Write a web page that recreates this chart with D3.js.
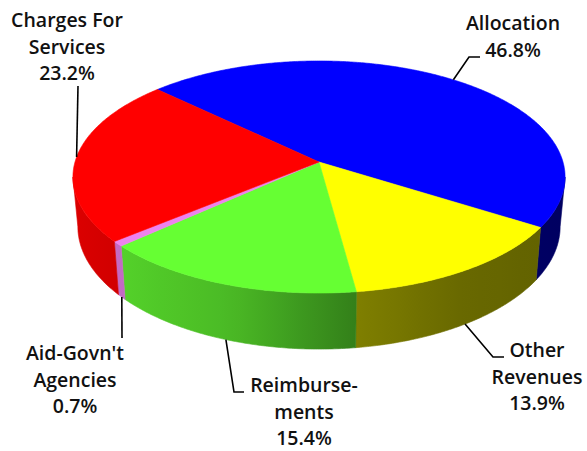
<!DOCTYPE html>
<html>
<head>
<meta charset="utf-8">
<script src="https://cdn.jsdelivr.net/npm/d3@7"></script>
<style>
  html, body { margin: 0; padding: 0; background: #fff; }
  svg { display: block; }
  text { font-family: "Open Sans", "DejaVu Sans", sans-serif; fill: #111; font-weight: 600; }
</style>
</head>
<body>
<svg id="chart" width="587" height="451"></svg>
<script>
// Revenue sources, clockwise from the back-left edge of the pie
const categories = ["Allocation", "Other Revenues", "Reimbursements", "Aid-Govn't Agencies", "Charges For Services"];
const values = [46.8, 13.9, 15.4, 0.7, 23.2];
const nameLines = [["Allocation"], ["Other", "Revenues"], ["Reimburse-", "ments"], ["Aid-Govn't", "Agencies"], ["Charges For", "Services"]];
const topColors = ["#0000ff", "#ffff00", "#66ff33", "#ee82ee", "#ff0000"];

// Disk geometry: a tilted disk seen in perspective
const W = 587, H = 451;
const CX = 319, CY = 162;        // projected centre of the top face
const RX = 244, RY = 114.1;      // horizontal / depth radii
const K = 0.1293;                // perspective strength (front is nearer)
const DEPTH = 48.8;              // thickness of the pie
const BOTTOM_SHRINK = 0.98;      // lower rim sits slightly further away
const START = 223.8 * Math.PI / 180;

function proj(phi, h) {
  const X = Math.cos(phi), Z = Math.sin(phi), w = 1 - K * Z;
  const s = h ? BOTTOM_SHRINK : 1;
  return [CX + RX * X * s / w, CY + (RY * Z + DEPTH * h) / w];
}

// Side lighting: brighter on the left, darker on the right
const shade = d3.scaleLinear()
  .domain([74, 130, 230, 355, 460, 566])
  .range([0.86, 0.81, 0.73, 0.50, 0.41, 0.38])
  .clamp(true);

// Label placement (block centre, first baseline) and leader lines
const layout = [
  { x: 513, y: 30, rim: 0, angle: 307.4, leader: [[469, 57], [480, 57]] },
  { x: 537, y: 357, rim: 1, angle: 57, leader: [[493, 357], [504, 357]] },
  { x: 304, y: 392, rim: 1, angle: 110, leader: [[234, 392], [244, 392]] },
  { x: 75, y: 360, rim: 1, angle: 139, leader: [[122, 338]] },
  { x: 67, y: 27, rim: 0, angle: 182.5, leader: [[78, 86]] }
];
const LINE_H = 26.7;

const svg = d3.select("#chart");
const defs = svg.append("defs");

const pie = d3.pie().sort(null).value(d => d);
const arcs = pie(values).map((a, i) => ({
  i,
  s: START + a.startAngle,
  e: START + a.endAngle
}));

function rimPoints(s, e, h) {
  const n = Math.max(2, Math.ceil((e - s) / (Math.PI / 360)));
  return d3.range(n + 1).map(j => proj(s + (e - s) * j / n, h));
}

const line = d3.line();

// Visible front band of the side wall
const vis0 = Math.asin(K), vis1 = Math.PI - Math.asin(K);

const sideG = svg.append("g");
arcs.forEach(a => {
  const base = d3.rgb(topColors[a.i]);
  const gid = "side" + a.i;
  const grad = defs.append("linearGradient")
    .attr("id", gid)
    .attr("gradientUnits", "userSpaceOnUse")
    .attr("x1", 0).attr("x2", W).attr("y1", 0).attr("y2", 0);
  d3.range(0, W + 1, 20).forEach(x => {
    const f = shade(x);
    grad.append("stop")
      .attr("offset", x / W)
      .attr("stop-color", d3.rgb(base.r * f, base.g * f, base.b * f).formatHex());
  });
  [0, 2 * Math.PI].forEach(off => {
    const s = Math.max(a.s, vis0 + off), e = Math.min(a.e, vis1 + off);
    if (e <= s) return;
    const pts = rimPoints(s, e, 0).concat(rimPoints(s, e, 1).reverse());
    sideG.append("path")
      .attr("d", line(pts) + "Z")
      .attr("fill", `url(#${gid})`)
      .attr("stroke", `url(#${gid})`)
      .attr("stroke-width", 0.6);
  });
});

const topG = svg.append("g");
arcs.forEach(a => {
  const pts = [[CX, CY]].concat(rimPoints(a.s, a.e, 0));
  topG.append("path")
    .attr("d", line(pts) + "Z")
    .attr("fill", topColors[a.i])
    .attr("stroke", topColors[a.i])
    .attr("stroke-width", 0.6)
    .attr("stroke-linejoin", "round");
});

// Leader lines and labels
const labelG = svg.append("g");
layout.forEach((L, i) => {
  const p0 = proj(L.angle * Math.PI / 180, L.rim);
  labelG.append("path")
    .attr("d", line([p0].concat(L.leader)))
    .attr("fill", "none")
    .attr("stroke", "#000")
    .attr("stroke-width", 1.6);
  const lines = nameLines[i].concat([values[i].toFixed(1) + "%"]);
  const t = labelG.append("text")
    .attr("text-anchor", "middle")
    .attr("font-size", 19.5);
  lines.forEach((s, j) => {
    t.append("tspan").attr("x", L.x).attr("y", L.y + j * LINE_H).text(s);
  });
});
</script>
</body>
</html>
